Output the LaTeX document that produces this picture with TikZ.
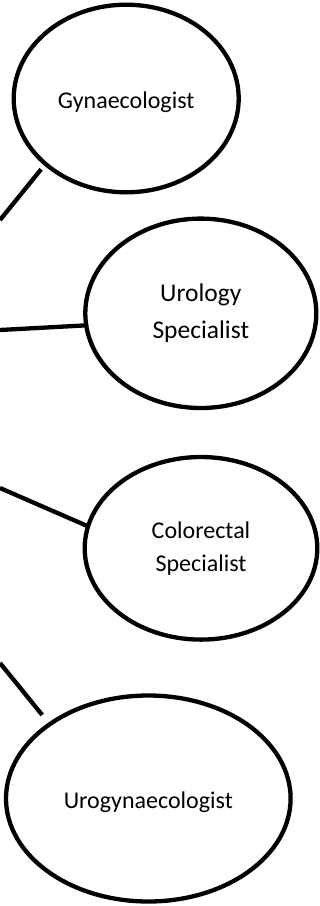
\documentclass[tikz,border=0pt]{standalone}
\usepackage{fontspec}
\setmainfont{Carlito}
\usetikzlibrary{shapes.geometric}
\tikzset{
  bubble/.style={ellipse, draw=black, line width=4.3pt, inner sep=0pt, outer sep=0pt, align=center},
  oneline/.style={text height=21pt, text depth=1.4pt},
  link/.style={draw=black, line width=4.3pt},
}
\begin{document}
\begin{tikzpicture}[x=1pt,y=-1pt]
\useasboundingbox (0,0) rectangle (320,906);
\node[bubble, oneline, minimum width=225pt, minimum height=187.6pt, font=\fontsize{24}{33}\selectfont] (g) at (126.2,98.5) {Gynaecologist};
\node[bubble, minimum width=231pt, minimum height=189.4pt, font=\fontsize{25.5}{36.5}\selectfont] (u) at (200.8,313.3) {Urology\\Specialist};
\node[bubble, minimum width=232.6pt, minimum height=182.6pt, font=\fontsize{24}{33}\selectfont] (c) at (201,548.3) {Colorectal\\Specialist};
\node[bubble, oneline, minimum width=284.6pt, minimum height=206pt, font=\fontsize{24}{33}\selectfont] (r) at (148.3,798.5) {Urogynaecologist};
\coordinate (c1) at (0,220);
\coordinate (c2) at (0,330);
\coordinate (c3) at (0,488);
\coordinate (c4) at (0,663);
\draw[link, shorten >=7pt] (c1) -- (g.219.6);
\draw[link] (c2) -- (u.186.3);
\draw[link] (c3) -- (c.169.9);
\draw[link, shorten >=12pt] (c4) -- (r.143.1);
\end{tikzpicture}
\end{document}
